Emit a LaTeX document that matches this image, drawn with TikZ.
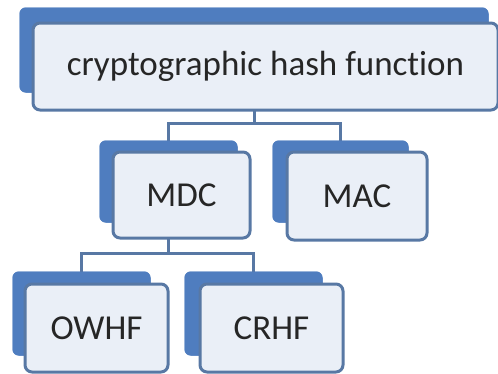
\documentclass[tikz,border=0pt]{standalone}
\usepackage{fontspec}
\setmainfont{Carlito}[Ligatures=NoCommon]
\usepackage{tikz}
\usetikzlibrary{calc}
\definecolor{backblue}{HTML}{4F7DBF}
\definecolor{frameblue}{HTML}{5878A4}
\definecolor{faceblue}{HTML}{EAEFF7}
\tikzset{
  backbox/.style={fill=backblue, draw=backblue, line width=1pt, rounded corners=6pt, inner sep=0pt},
  facebox/.style={fill=faceblue, draw=frameblue, line width=3pt, rounded corners=7pt, inner sep=0pt,
    font=\fontsize{35}{40}\selectfont, text=black!85},
  link/.style={draw=frameblue, line width=3pt}
}
\begin{document}
\begin{tikzpicture}[x=1pt,y=-1pt]
\useasboundingbox (0,0) rectangle (498,373);
% back plates
\node[backbox, minimum width=468pt, minimum height=84pt] (hashback) at (254,50) {};
\node[backbox, minimum width=137pt, minimum height=81pt] (mdcback) at (168.5,181.5) {};
\node[backbox, minimum width=135pt, minimum height=81pt] (macback) at (340.5,181.5) {};
\node[backbox, minimum width=137pt, minimum height=83pt] (owhfback) at (81.5,313.5) {};
\node[backbox, minimum width=137pt, minimum height=83pt] (crhfback) at (253.5,313.5) {};
% connectors
\draw[link] (hashback.south) -- ++(0,31) coordinate (hashfork) -| (mdcback.north);
\draw[link] (hashfork) -| (macback.north);
\draw[link] (mdcback.south) -- ++(0,31) coordinate (mdcfork) -| (owhfback.north);
\draw[link] (mdcfork) -| (crhfback.north);
% back plates again over the connector ends
\foreach \b in {hashback,mdcback,macback,owhfback,crhfback}
  \fill[backblue, rounded corners=6pt] (\b.north west) rectangle (\b.south east);
% faces
\node[facebox, minimum width=465pt, minimum height=87pt] (hash) at (265.5,66.5) {cryptographic hash function};
\node[facebox, minimum width=137pt, minimum height=86pt] (mdc) at (181.5,195) {MDC};
\node[facebox, minimum width=140pt, minimum height=88pt] (mac) at (357,196) {MAC};
\node[facebox, minimum width=143pt, minimum height=88pt] (owhf) at (96.5,328) {OWHF};
\node[facebox, minimum width=143pt, minimum height=88pt] (crhf) at (271.5,328) {CRHF};
\end{tikzpicture}
\end{document}
